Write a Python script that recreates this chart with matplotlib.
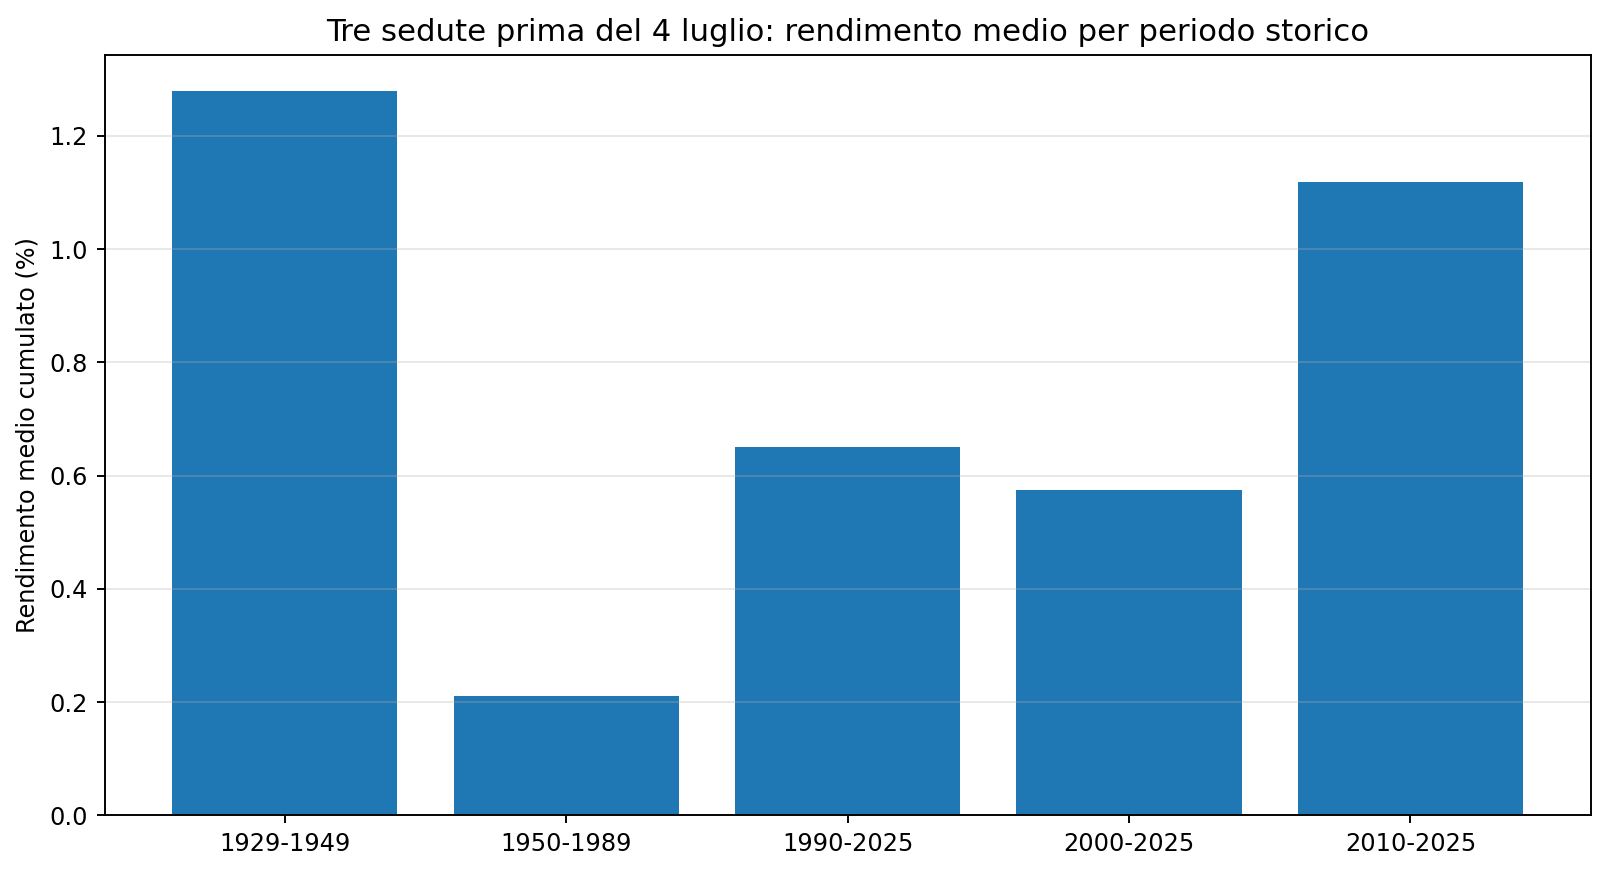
import matplotlib
matplotlib.use("Agg")
import matplotlib.pyplot as plt

periods = ["1929-1949", "1950-1989", "1990-2025", "2000-2025", "2010-2025"]
avg_returns = [1.279, 0.211, 0.650, 0.574, 1.118]

DPI = 173
fig, ax = plt.subplots(figsize=(1610/DPI, 876/DPI), dpi=DPI)
fig.subplots_adjust(left=0.065, right=0.9879, top=0.9372, bottom=0.0693)
ax.bar(periods, avg_returns, color="#1f77b4")
ax.set_title("Tre sedute prima del 4 luglio: rendimento medio per periodo storico", fontsize=12.8)
ax.set_ylabel("Rendimento medio cumulato (%)")
ax.grid(axis="y", alpha=0.3)
fig.savefig("out.png", dpi=DPI)
